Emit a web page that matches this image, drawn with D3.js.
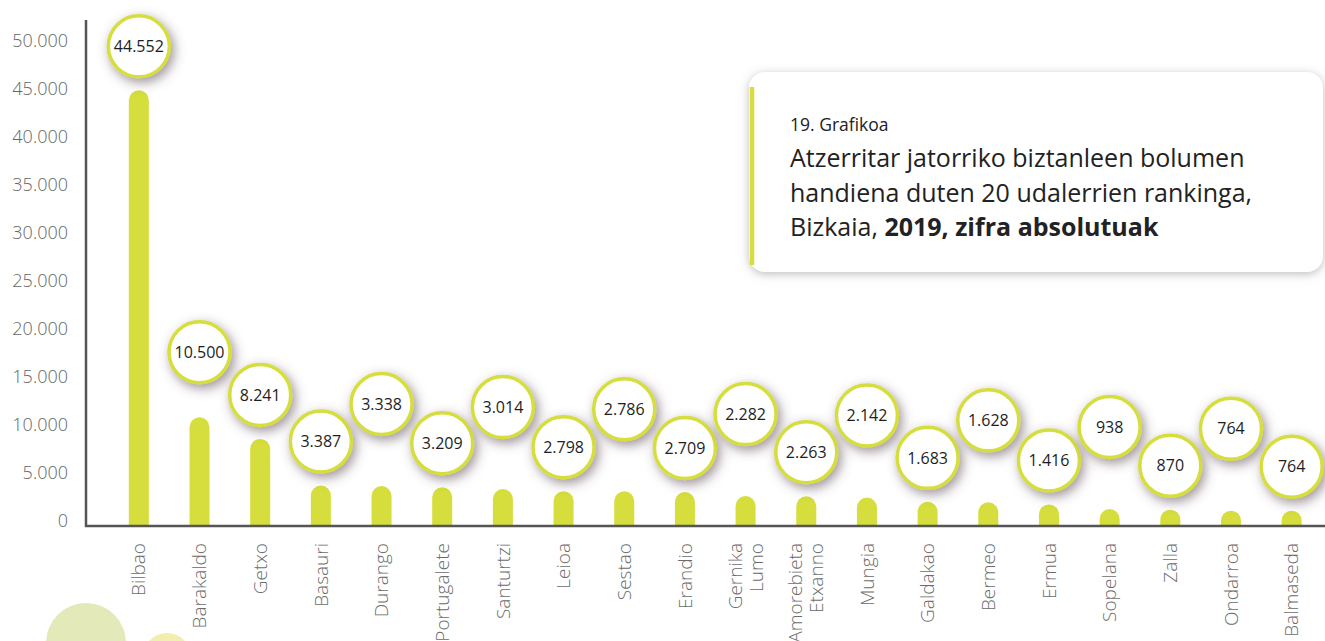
<!DOCTYPE html>
<html>
<head>
<meta charset="utf-8">
<script src="https://d3js.org/d3.v7.min.js"></script>
<style>
  body { margin: 0; background: #fff; }
  svg { display: block; font-family: "Open Sans", "Noto Sans", sans-serif; }
  .tick-label { fill: #666; font-size: 18px; font-weight: 300; }
  .cat-label { fill: #6b6b6b; font-size: 19px; font-weight: 300; }
  .bubble-text { fill: #1e1e1e; font-size: 16px; }
</style>
</head>
<body>
<svg width="1325" height="641"></svg>
<script>
var municipalities = ["Bilbao", "Barakaldo", "Getxo", "Basauri", "Durango", "Portugalete",
  "Santurtzi", "Leioa", "Sestao", "Erandio", "Gernika|Lumo", "Amorebieta|Etxanno",
  "Mungia", "Galdakao", "Bermeo", "Ermua", "Sopelana", "Zalla", "Ondarroa", "Balmaseda"];
var foreignPop = [44552, 10500, 8241, 3387, 3338, 3209, 3014, 2798, 2786, 2709,
  2282, 2263, 2142, 1683, 1628, 1416, 938, 870, 764, 764];
var yTicks = [0, 5000, 10000, 15000, 20000, 25000, 30000, 35000, 40000, 45000, 50000];

var green = "#d5de3d";
var svg = d3.select("svg");

var defs = svg.append("defs");
var f1 = defs.append("filter").attr("id", "bshadow")
  .attr("x", "-60%").attr("y", "-60%").attr("width", "220%").attr("height", "220%");
f1.append("feDropShadow").attr("dx", 3).attr("dy", 4).attr("stdDeviation", 6)
  .attr("flood-color", "#5a4853").attr("flood-opacity", 0.6);
var f2 = defs.append("filter").attr("id", "boxshadow")
  .attr("x", "-10%").attr("y", "-20%").attr("width", "120%").attr("height", "140%");
f2.append("feDropShadow").attr("dx", 0).attr("dy", 2).attr("stdDeviation", 5)
  .attr("flood-color", "#7a7a7a").attr("flood-opacity", 0.5);

// decorative circles bottom left
svg.append("circle").attr("cx", 86).attr("cy", 643).attr("r", 40).attr("fill", "#e3e9b8");
svg.append("circle").attr("cx", 167).attr("cy", 657).attr("r", 24).attr("fill", "#f1efb0");

var x = d3.scaleBand().domain(municipalities).range([108.5, 1322])
  .paddingInner(0.67).paddingOuter(0.335);
var y = d3.scaleLinear().domain([0, 50000]).range([523, 43]);

// y tick labels
svg.append("g").selectAll("text").data(yTicks).enter().append("text")
  .attr("class", "tick-label")
  .attr("x", 68)
  .attr("y", function(d) { return y(d) - 2; })
  .attr("dy", "0.35em")
  .attr("text-anchor", "end")
  .text(function(d) { return d === 0 ? "0" : d3.format(",")(d).replace(/,/g, "."); });

// bars with rounded tops
var bw = x.bandwidth(), r = bw / 2;
svg.append("g").selectAll("path").data(foreignPop).enter().append("path")
  .attr("fill", green)
  .attr("d", function(d, i) {
    var x0 = x(municipalities[i]), top = y(d) - 5, base = y(0) + 2;
    return "M" + x0 + "," + base + "V" + (top + r) +
      "A" + r + "," + r + " 0 0 1 " + (x0 + bw) + "," + (top + r) +
      "V" + base + "Z";
  });

// axes lines
svg.append("line").attr("x1", 86).attr("x2", 86).attr("y1", 20).attr("y2", 527)
  .attr("stroke", "#555").attr("stroke-width", 2.5);
svg.append("line").attr("x1", 85).attr("x2", 1325).attr("y1", 526).attr("y2", 526)
  .attr("stroke", "#555").attr("stroke-width", 2.5);

// category labels
svg.append("g").selectAll("text").data(municipalities).enter().append("text")
  .attr("class", "cat-label")
  .attr("transform", function(d) {
    return "translate(" + (x(d) + bw / 2) + ",543) rotate(-90)";
  })
  .attr("text-anchor", "end")
  .each(function(d) {
    var parts = d.split("|");
    var t = d3.select(this);
    parts.forEach(function(p, k) {
      var off = (k - (parts.length - 1) / 2) * 21;
      t.append("tspan").attr("x", 0).attr("y", off).attr("dy", "0.35em").text(p);
    });
  });

// value bubbles, staggered up/down
function lift(i) {
  if (i >= 3 && i % 2 === 0) return 87;
  if (i === 1) return 70;
  return 49;
}
var bub = svg.append("g").selectAll("g").data(foreignPop).enter().append("g")
  .attr("transform", function(d, i) {
    return "translate(" + (x(municipalities[i]) + bw / 2) + "," + (y(d) - lift(i)) + ")";
  });
bub.append("circle").attr("r", 30.5).attr("fill", "#fff")
  .attr("stroke", green).attr("stroke-width", 3.5).attr("filter", "url(#bshadow)");
bub.append("text").attr("class", "bubble-text").attr("text-anchor", "middle").attr("dy", "0.36em")
  .text(function(d) { return d3.format(",")(d).replace(/,/g, "."); });

// title box
var tb = svg.append("g");
tb.append("rect").attr("x", 749).attr("y", 72).attr("width", 574).attr("height", 200)
  .attr("rx", 16).attr("fill", "#fff").attr("filter", "url(#boxshadow)");
tb.append("line").attr("x1", 752).attr("x2", 752).attr("y1", 87).attr("y2", 265)
  .attr("stroke", green).attr("stroke-width", 4.5);
tb.append("text").attr("x", 790).attr("y", 131).attr("fill", "#222")
  .style("font-size", "17.5px").text("19. Grafikoa");
var lines = ["Atzerritar jatorriko biztanleen bolumen", "handiena duten 20 udalerrien rankinga,"];
lines.forEach(function(l, k) {
  tb.append("text").attr("x", 790).attr("y", 167 + k * 34.5).attr("fill", "#222")
    .style("font-size", "25px").text(l);
});
var l3 = tb.append("text").attr("x", 790).attr("y", 236).attr("fill", "#222").style("font-size", "25px");
l3.append("tspan").text("Bizkaia, ");
l3.append("tspan").style("font-weight", "bold").text("2019, zifra absolutuak");
</script>
</body>
</html>
